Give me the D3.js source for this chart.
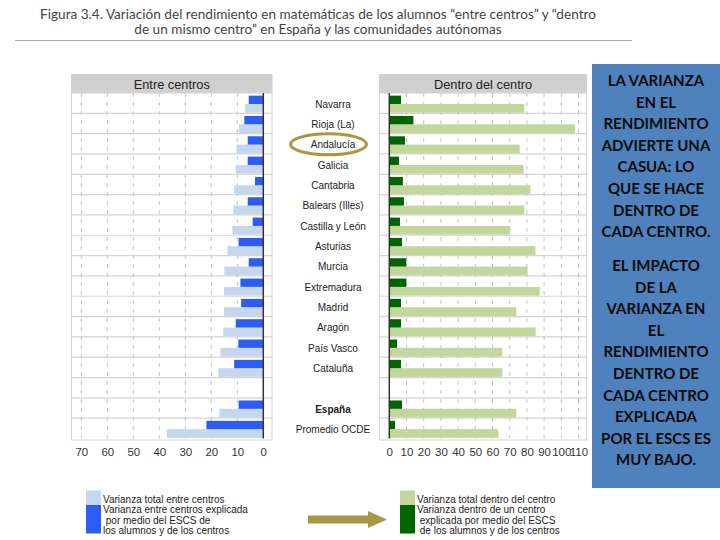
<!DOCTYPE html>
<html><head><meta charset="utf-8">
<script src="https://cdn.jsdelivr.net/npm/d3@7"></script>
<style>body{margin:0;background:#fff;}svg{display:block;}</style>
</head><body>
<svg id="chart" width="720" height="540"></svg>
<script>
const regions = ["Navarra","Rioja (La)","Andalucía","Galicia","Cantabria","Balears (Illes)","Castilla y León","Asturias","Murcia","Extremadura","Madrid","Aragón","País Vasco","Cataluña"];
const totals = ["España","Promedio OCDE"];
const categories = [...regions, "", ...totals];
// Entre centros
const entreTotal =     [7.0, 9.4,10.3,10.6,11.2,11.5,11.9,13.8,15.0,15.1,15.1,15.4,16.5,17.3, null,16.9,37.1];
const entreExplicada = [5.6, 7.3, 6.0, 6.0, 3.2, 6.0, 4.1, 9.5, 5.6, 8.8, 8.5,10.6, 9.6,11.2, null, 9.5,21.9];
// Dentro del centro
const dentroTotal =     [78.5,108,75.8,78.1,82.0,78.5,70.3,85.0,80.4,87.4,73.8,85.1,65.7,65.7, null,73.8,63.4];
const dentroExplicada = [6.8,14.0, 9.1, 5.6, 7.9, 8.5, 6.2, 7.4, 9.9, 9.9, 6.8, 6.8, 4.5, 6.8, null, 7.4, 3.3];
const leftTicks = [0,10,20,30,40,50,60,70];
const rightTicks = [0,10,20,30,40,50,60,70,80,90,100,110];
const titleLines = ["Figura 3.4. Variación del rendimiento en matemáticas de los alumnos “entre centros” y “dentro","de un mismo centro” en España y las comunidades autónomas"];
const noteLines1 = ["LA VARIANZA","EN EL","RENDIMIENTO","ADVIERTE UNA","CASUA: LO","QUE SE HACE","DENTRO DE","CADA CENTRO."];
const noteLines2 = ["EL IMPACTO","DE LA","VARIANZA EN","EL","RENDIMIENTO","DENTRO DE","CADA CENTRO","EXPLICADA","POR EL ESCS ES","MUY BAJO."];
const legendLeft = ["Varianza total entre centros","Varianza entre centros explicada"," por medio del ESCS de","los alumnos y de los centros"];
const legendRight = ["Varianza total dentro del centro","Varianza dentro de un centro"," explicada por medio del ESCS"," de los alumnos y de los centros"];

const C = {lb:"#c6d6ee", db:"#2c5cf2", lg:"#c3d69b", dg:"#006400", head:"#d0d0d0", grid:"#d4d4d4", olive:"#a99747", box:"#4f81bd"};
const svg = d3.select("#chart");
const font = "'Liberation Sans', Arial, sans-serif";

// Title
svg.selectAll("text.title").data(titleLines).join("text")
  .attr("x",318).attr("y",(d,i)=>19+i*15).attr("text-anchor","middle")
  .attr("font-family","Lato, sans-serif").attr("font-size",13.6).attr("fill","#444").text(d=>d);
svg.append("line").attr("x1",15).attr("x2",632).attr("y1",40.5).attr("y2",40.5).attr("stroke","#aaa").attr("stroke-width",1);

const y = d3.scaleBand().domain(categories.map((c,i)=>i)).range([93,438.5]).paddingInner(0).paddingOuter(0);
const bw = y.bandwidth();
const yTop = 93, yBot = 438.5;

function panel(opts){
  const {x, x0, x1, ticks, total, expl, light, dark, title} = opts;
  const g = svg.append("g");
  g.append("rect").attr("x",x0).attr("y",74).attr("width",x1-x0).attr("height",19).attr("fill",C.head);
  g.append("text").attr("x",(x0+x1)/2).attr("y",88.5).attr("text-anchor","middle")
    .attr("font-family",font).attr("font-size",12.8).attr("fill","#222").text(title);
  g.append("rect").attr("x",x0+0.5).attr("y",yTop).attr("width",x1-x0-1).attr("height",yBot-yTop+1.5)
    .attr("fill","none").attr("stroke",C.grid);
  // horizontal grid
  g.selectAll("line.h").data(categories.map((c,i)=>i).slice(1)).join("line")
    .attr("x1",x0).attr("x2",x1).attr("y1",d=>y(d)).attr("y2",d=>y(d)).attr("stroke",C.grid).attr("stroke-width",1.2);
  // vertical dashed grid
  g.selectAll("line.v").data(ticks.slice(1)).join("line")
    .attr("x1",d=>x(d)).attr("x2",d=>x(d)).attr("y1",yTop).attr("y2",yBot)
    .attr("stroke","#c4c4c4").attr("stroke-dasharray","4,5");
  const idx = categories.map((c,i)=>i).filter(i=>total[i]!=null);
  g.selectAll("rect.l").data(idx).join("rect")
    .attr("x",i=>Math.min(x(0),x(total[i]))).attr("width",i=>Math.abs(x(total[i])-x(0)))
    .attr("y",i=>y(i)+bw*0.54).attr("height",bw*0.43).attr("fill",light);
  g.selectAll("rect.d").data(idx).join("rect")
    .attr("x",i=>Math.min(x(0),x(expl[i]))).attr("width",i=>Math.abs(x(expl[i])-x(0)))
    .attr("y",i=>y(i)+bw*0.13).attr("height",bw*0.41).attr("fill",dark);
  g.append("line").attr("x1",x(0)).attr("x2",x(0)).attr("y1",yTop).attr("y2",yBot).attr("stroke","#333").attr("stroke-width",1.5);
  const ax = g.append("g").attr("transform",`translate(0,${yBot+5})`)
    .call(d3.axisBottom(x).tickValues(ticks).tickSize(0).tickPadding(4).tickFormat(d3.format("d")));
  ax.select(".domain").remove();
  ax.selectAll("text").attr("font-family",font).attr("font-size",11.5).attr("fill","#333");
}

const xL = d3.scaleLinear().domain([0,70]).range([263.3,81.3]);
const xR = d3.scaleLinear().domain([0,110]).range([389.3,578.5]);
panel({x:xL, x0:71, x1:272.5, ticks:leftTicks, total:entreTotal, expl:entreExplicada, light:C.lb, dark:C.db, title:"Entre centros"});
panel({x:xR, x0:379, x1:587, ticks:rightTicks, total:dentroTotal, expl:dentroExplicada, light:C.lg, dark:C.dg, title:"Dentro del centro"});

// category labels
svg.selectAll("text.cat").data(categories.map((c,i)=>i).filter(i=>categories[i]!=="")).join("text")
  .attr("x",333).attr("y",i=>y(i)+bw/2+4.5).attr("text-anchor","middle")
  .attr("font-family",font).attr("font-size",10).attr("fill","#222")
  .attr("font-weight",i=>categories[i]==="España"?"bold":"normal").text(i=>categories[i]);

// ellipse around Andalucía
const ai = categories.indexOf("Andalucía");
svg.append("ellipse").attr("cx",328.5).attr("cy",y(ai)+bw/2+0.5).attr("rx",38).attr("ry",10.5)
  .attr("fill","none").attr("stroke",C.olive).attr("stroke-width",3);

// note box
svg.append("rect").attr("x",592).attr("y",64).attr("width",128).attr("height",424).attr("fill",C.box);
const nt = svg.append("g").attr("font-family","Lato, sans-serif").attr("font-weight","bold").attr("font-size",15).attr("fill","#0b0b0b").attr("text-anchor","middle");
noteLines1.forEach((t,i)=>nt.append("text").attr("x",656).attr("y",86+i*21.6).text(t));
noteLines2.forEach((t,i)=>nt.append("text").attr("x",656).attr("y",271+i*21.6).text(t));

// legends
function legend(x0, light, dark, lines){
  svg.append("rect").attr("x",x0).attr("y",490.5).attr("width",15).attr("height",14.5).attr("fill",light);
  svg.append("rect").attr("x",x0).attr("y",505).attr("width",15).attr("height",28.5).attr("fill",dark);
  svg.selectAll(null).data(lines).join("text").attr("x",x0+17).attr("y",(d,i)=>503+i*10.4)
    .attr("font-family",font).attr("font-size",10).attr("fill","#222").attr("xml:space","preserve").style("white-space","pre").text(d=>d);
}
legend(86, C.lb, C.db, legendLeft);
legend(400, C.lg, C.dg, legendRight);

// arrow
svg.append("path").attr("d","M308,515.5 L368,515.5 L368,511 L387,519.5 L368,528 L368,523.5 L308,523.5 Z").attr("fill",C.olive);
</script>
</body></html>
